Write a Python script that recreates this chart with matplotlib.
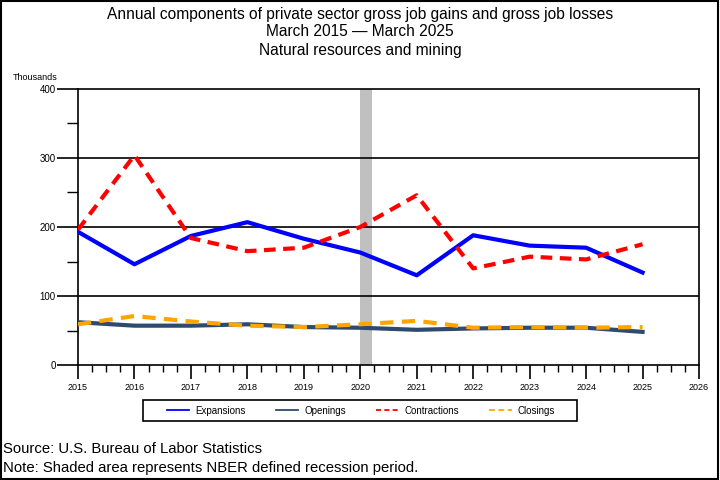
import matplotlib
matplotlib.use('Agg')
from matplotlib import pyplot as plt
from matplotlib.patches import Rectangle

plt.rcParams['font.family'] = ['Liberation Sans', 'DejaVu Sans']

# data (thousands)
years = [2015, 2016, 2017, 2018, 2019, 2020, 2021, 2022, 2023, 2024, 2025]
expansions = [193, 146, 187, 207, 183, 163, 130, 188, 173, 170, 134]
openings = [62, 57, 57, 59, 55, 54, 51, 53, 54, 54, 48]
contractions = [196, 304, 184, 165, 170, 200, 246, 140, 157, 153, 175]
closings = [59, 71, 63, 57, 55, 59, 64, 54, 55, 54, 55]
recession = (2020.0, 2020.2)

fig = plt.figure(figsize=(7.2, 4.8), dpi=100)
ax = fig.add_axes([78/720, 1-365/480, 621/720, 276/480])

ax.axvspan(recession[0], recession[1], color='#c0c0c0', lw=0, zorder=1)
for v in [100, 200, 300]:
    ax.axhline(v, color='black', lw=1.2, zorder=2)

ax.plot(years, expansions, color='#0000ff', lw=3, label='Expansions', zorder=3)
ax.plot(years, openings, color='#2e4a6e', lw=3, label='Openings', zorder=3)
ax.plot(years, contractions, color='#ff0000', lw=3, dashes=(2.8, 1.8),
        label='Contractions', zorder=4)
ax.plot(years, closings, color='#ffa500', lw=3, dashes=(3.2, 2.0),
        label='Closings', zorder=4)

ax.set_xlim(2015, 2026)
ax.set_ylim(0, 400)
ax.set_xticks(range(2015, 2027))
ax.set_xticks([y + q/4 for y in range(2015, 2026) for q in (1, 2, 3)], minor=True)
ax.set_yticks([0, 100, 200, 300, 400])
ax.set_yticks([50, 150, 250, 350], minor=True)
ax.tick_params(axis='x', which='major', length=10, width=1.2, labelsize=6.5, pad=3)
ax.tick_params(axis='x', which='minor', length=5, width=1)
ax.tick_params(axis='y', which='major', length=15, width=1.2, labelsize=7, pad=1)
ax.tick_params(axis='y', which='minor', length=8, width=1)
for s in ax.spines.values():
    s.set_linewidth(1.2)

fig.text(13/720, 1-77/480, 'Thousands', fontsize=6.5, va='center', ha='left')

fig.text(0.5, 1-14/480, 'Annual components of private sector gross job gains and gross job losses',
         ha='center', va='center', fontsize=11.2)
fig.text(0.5, 1-32/480, 'March 2015 \u2014 March 2025', ha='center', va='center', fontsize=11.2)
fig.text(0.5, 1-51/480, 'Natural resources and mining', ha='center', va='center', fontsize=11.2)

fig.text(3/720, 1-449/480, 'Source: U.S. Bureau of Labor Statistics', fontsize=10.7, va='center')
fig.text(3/720, 1-468/480, 'Note: Shaded area represents NBER defined recession period.',
         fontsize=10.7, va='center')

# legend: entries spread inside a plain box
h, l = ax.get_legend_handles_labels()
leg = fig.legend(h, l, loc='center', ncol=4, fontsize=7,
                 bbox_to_anchor=(167/720, 1-421/480, 388/720, 21/480), mode='expand',
                 frameon=False, handlelength=2.3, handletextpad=0.6, borderpad=0.0,
                 borderaxespad=0.0)
for line in leg.get_lines():
    line.set_linewidth(1.3)
fig.patches.append(Rectangle((143/720, 1-421/480), 434/720, 21/480, transform=fig.transFigure,
                             fill=False, edgecolor='black', lw=1.2))

fig.patches.append(Rectangle((0.001, 0.002), 0.996, 0.996, transform=fig.transFigure,
                             fill=False, edgecolor='black', lw=1.5))

fig.savefig('out.png', dpi=100)
